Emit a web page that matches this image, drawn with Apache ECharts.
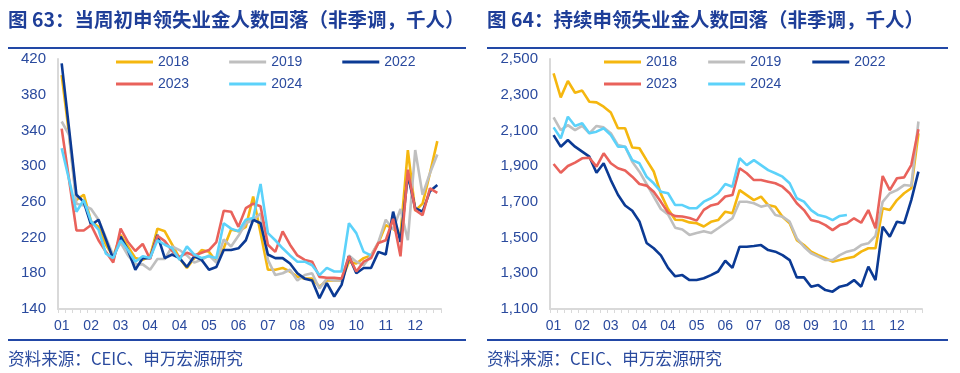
<!DOCTYPE html>
<html><head><meta charset="utf-8">
<script src="https://cdn.jsdelivr.net/npm/echarts@6/dist/echarts.min.js"></script>
<style>html,body{margin:0;padding:0;background:#fff}#c{width:960px;height:373px}</style>
</head><body><div id="c"></div>
<script>
// categories: 52 weeks of the year
const weeks = ['W01','W02','W03','W04','W05','W06','W07','W08','W09','W10','W11','W12','W13',
  'W14','W15','W16','W17','W18','W19','W20','W21','W22','W23','W24','W25','W26',
  'W27','W28','W29','W30','W31','W32','W33','W34','W35','W36','W37','W38','W39',
  'W40','W41','W42','W43','W44','W45','W46','W47','W48','W49','W50','W51','W52'];
// x tick labels shown every 4 weeks
const monthTickLabels = ['01','02','03','04','04','05','06','07','08','09','10','11','12'];
const initialYTicks = [140,180,220,260,300,340,380,420];
const continuingYTicks = [1100,1300,1500,1700,1900,2100,2300,2500];
const seriesNames = ['2018','2019','2022','2023','2024'];

// Chart 63: initial claims (NSA, thousands)
const initial2018 = [402,336,262,268,238,232,212,199,223,210,197,195,199,230,227,212,197,186,197,206,204,193,208,229,227,232,266,225,184,184,186,182,176,174,174,165,172,172,172,193,191,197,200,214,234,230,223,318,250,258,292,328];
const initial2019 = [350,335,258,256,252,240,220,200,214,200,190,190,184,196,196,210,206,200,192,195,200,192,218,210,222,236,240,247,195,178,180,184,172,178,180,163,174,172,172,200,193,189,200,215,240,229,252,217,318,268,292,313];
const initial2022 = [415,342,268,260,234,240,218,196,221,206,184,197,197,223,197,201,197,187,199,195,184,187,206,206,208,217,240,236,201,197,197,191,180,174,172,152,169,154,167,199,180,186,186,204,201,249,215,290,253,249,272,279];
const initial2023 = [342,285,228,228,234,217,204,192,230,215,205,213,196,222,216,205,198,203,200,203,206,215,250,249,232,253,258,255,212,204,227,212,200,195,193,176,175,175,174,199,182,193,197,214,217,241,199,296,251,245,275,270];
const initial2024 = [320,285,249,262,238,229,202,197,217,206,193,199,197,217,212,208,195,210,201,197,199,197,236,230,227,240,242,280,225,217,208,200,193,193,189,178,186,182,182,236,225,204,200];

// Chart 64: continuing claims (NSA, thousands)
const cont2018 = [2420,2285,2377,2311,2323,2261,2257,2233,2200,2112,2112,2004,2000,1934,1870,1745,1660,1600,1598,1585,1580,1562,1588,1598,1645,1636,1766,1738,1710,1729,1682,1673,1617,1580,1486,1458,1421,1402,1384,1365,1374,1384,1393,1421,1440,1440,1664,1654,1710,1748,1776,2084];
const cont2019 = [2173,2102,2130,2102,2125,2084,2125,2117,2084,2018,2009,1925,1869,1800,1730,1660,1630,1555,1545,1515,1525,1535,1525,1552,1580,1608,1701,1701,1692,1673,1682,1626,1617,1589,1496,1449,1412,1393,1374,1374,1402,1421,1430,1458,1468,1510,1700,1748,1766,1794,1790,2150];
const cont2022 = [2074,2009,2046,2009,1981,1953,1863,1916,1822,1740,1680,1650,1590,1470,1440,1400,1330,1283,1290,1262,1262,1272,1290,1310,1370,1330,1449,1449,1453,1458,1430,1421,1402,1374,1277,1277,1225,1234,1206,1197,1225,1234,1262,1225,1337,1262,1561,1505,1589,1580,1710,1869];
const cont2023 = [1912,1863,1901,1920,1944,1947,1897,1972,1916,1888,1875,1841,1800,1791,1757,1700,1640,1620,1618,1610,1595,1655,1680,1690,1730,1738,1888,1860,1822,1822,1813,1804,1785,1748,1692,1654,1598,1589,1570,1542,1570,1580,1608,1583,1654,1552,1845,1766,1832,1837,1906,2106];
const cont2024 = [2117,2056,2177,2125,2140,2084,2093,2112,2074,2009,2009,1934,1916,1841,1804,1757,1748,1682,1682,1664,1664,1701,1720,1748,1800,1785,1944,1906,1934,1906,1878,1860,1841,1804,1720,1701,1654,1626,1617,1598,1621,1626];

const colors = ['#F5B70F','#BFBFBF','#0B3A94','#E9625B','#5CD2FA'];
const textBlue = '#2A4A9E';
const titleBlue = '#1E3E98';
const lineBlue = '#2248A6';
const axisGray = '#D9D9D9';
const latin = 'Liberation Sans, Arial, sans-serif';
const cjk = '"Noto Sans CJK SC", "Liberation Sans", sans-serif';

function xAxis(gridIndex){
  return {
    type:'category', gridIndex, data: weeks, boundaryGap:true,
    axisLine:{show:true, lineStyle:{color:axisGray, width:2}},
    axisTick:{show:true, interval:0, length:4, lineStyle:{color:axisGray, width:1}},
    axisLabel:{interval:3, margin:10, fontSize:14, color:textBlue, fontFamily:latin,
      formatter:(v,i)=> monthTickLabels[Math.round(i/4)]},
    splitLine:{show:false}
  };
}
function yAxis(gridIndex, min, max, step, ticks, fmt){
  return {
    type:'value', gridIndex, min, max, interval:step,
    axisLine:{show:true, lineStyle:{color:axisGray, width:2}},
    axisTick:{show:false}, splitLine:{show:false},
    axisLabel:{margin:12, fontSize:15, color:textBlue, fontFamily:latin,
      formatter:v=> ticks.includes(v) ? fmt(v) : ''}
  };
}
const leftData = [initial2018, initial2019, initial2022, initial2023, initial2024];
const rightData = [cont2018, cont2019, cont2022, cont2023, cont2024];
const series = [];
[leftData, rightData].forEach((set, g)=>{
  set.forEach((d, k)=>{
    series.push({name:seriesNames[k], type:'line', xAxisIndex:g, yAxisIndex:g, data:d,
      symbol:'none', lineStyle:{width:2.6, color:colors[k]}, itemStyle:{color:colors[k]}, z:2+k});
  });
});
function legend(names, left, top, gap){
  return {data:names, left, top, itemGap:gap, icon:'rect', itemWidth:37, itemHeight:3, padding:0,
    selectedMode:false, textStyle:{fontSize:14, color:textBlue, fontFamily:latin, padding:[0,0,0,0]}};
}
const titleStyle = {fontSize:19.5, fontWeight:'bold', color:titleBlue, fontFamily:cjk};
const chart = echarts.init(document.getElementById('c'), null, {renderer:'canvas'});
chart.setOption({
  animation:false,
  backgroundColor:'#fff',
  title:[
    {text:'图 63：当周初申领失业金人数回落（非季调，千人）', left:8, top:10, padding:0, textStyle:titleStyle},
    {text:'图 64：持续申领失业金人数回落（非季调，千人）', left:487, top:10, padding:0, textStyle:titleStyle}
  ],
  legend:[
    legend(['2018','2019','2022'],116,55,40),
    legend(['2023','2024'],116,77,40),
    legend(['2018','2019','2022'],604,55,31),
    legend(['2023','2024'],604,77,31)
  ],
  grid:[
    {left:58, top:59, width:383, height:250},
    {left:550, top:59, width:372, height:250}
  ],
  xAxis:[xAxis(0), xAxis(1)],
  yAxis:[
    yAxis(0,140,420,20,initialYTicks,v=>String(v)),
    yAxis(1,1100,2500,100,continuingYTicks,v=>v.toLocaleString('en-US'))
  ],
  series,
  graphic:[
    {type:'line', shape:{x1:8,y1:48,x2:466,y2:48}, style:{stroke:lineBlue, lineWidth:2}},
    {type:'line', shape:{x1:8,y1:340,x2:466,y2:340}, style:{stroke:lineBlue, lineWidth:2}},
    {type:'line', shape:{x1:487,y1:48,x2:948,y2:48}, style:{stroke:lineBlue, lineWidth:2}},
    {type:'line', shape:{x1:487,y1:340,x2:948,y2:340}, style:{stroke:lineBlue, lineWidth:2}},
    {type:'text', left:8, top:350, style:{text:'资料来源：CEIC、申万宏源研究', fill:textBlue, font:'16.6px "Noto Sans CJK SC", sans-serif'}},
    {type:'text', left:487, top:350, style:{text:'资料来源：CEIC、申万宏源研究', fill:textBlue, font:'16.6px "Noto Sans CJK SC", sans-serif'}}
  ]
});
</script></body></html>
